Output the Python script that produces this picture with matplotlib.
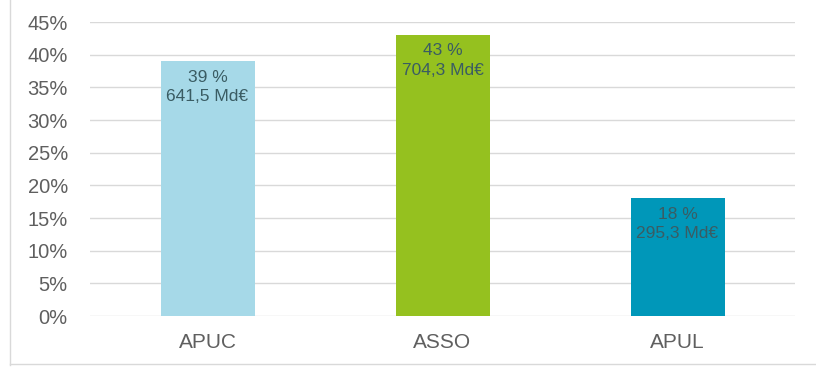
import matplotlib
matplotlib.use("Agg")
import matplotlib.pyplot as plt
from matplotlib.ticker import PercentFormatter
from matplotlib.lines import Line2D

categories = ["APUC", "ASSO", "APUL"]
shares = [39, 43, 18]            # % of total
amounts = ["641,5", "704,3", "295,3"]  # Md€
colors = ["#A6D9E8", "#95C11F", "#0097B9"]
yticks = [0, 5, 10, 15, 20, 25, 30, 35, 40, 45]

plt.rcParams["font.family"] = ["Liberation Sans", "DejaVu Sans"]

fig = plt.figure(figsize=(8.16, 3.69), dpi=100)
ax = fig.add_axes([90 / 816, 53 / 369, 705 / 816, 294 / 369])

x = range(len(categories))
bars = ax.bar(x, shares, width=0.40, color=colors, zorder=2)

for rect, s, a in zip(bars, shares, amounts):
    ax.annotate(f"{s} %\n{a} Md€",
                xy=(rect.get_x() + rect.get_width() / 2, rect.get_height()),
                xytext=(0, -6), textcoords="offset points",
                ha="center", va="top", fontsize=12.5, color="#3A5C63",
                linespacing=1.35)

ax.set_xlim(-0.5, len(categories) - 0.5)
ax.set_ylim(0, 45)
ax.set_yticks(yticks)
ax.yaxis.set_major_formatter(PercentFormatter(decimals=0))
ax.set_xticks(list(x))
ax.set_xticklabels(categories)

ax.tick_params(axis="y", length=0, pad=16, labelsize=14.5, labelcolor="#5F5F5F")
ax.tick_params(axis="x", length=0, pad=12, labelsize=15, labelcolor="#5F5F5F")
ax.grid(axis="y", color="#D9D9D9", linewidth=1.0, zorder=0)
ax.set_axisbelow(True)
for sp in ax.spines.values():
    sp.set_visible(False)

# light chart-area frame along left and bottom edges
fig.add_artist(Line2D([10 / 816, 10 / 816], [4 / 369, 1.0], color="#D9D9D9", lw=1.0))
fig.add_artist(Line2D([10 / 816, 1.0], [5 / 369, 5 / 369], color="#D9D9D9", lw=1.0))

fig.savefig("out.png", dpi=100, facecolor="white")
